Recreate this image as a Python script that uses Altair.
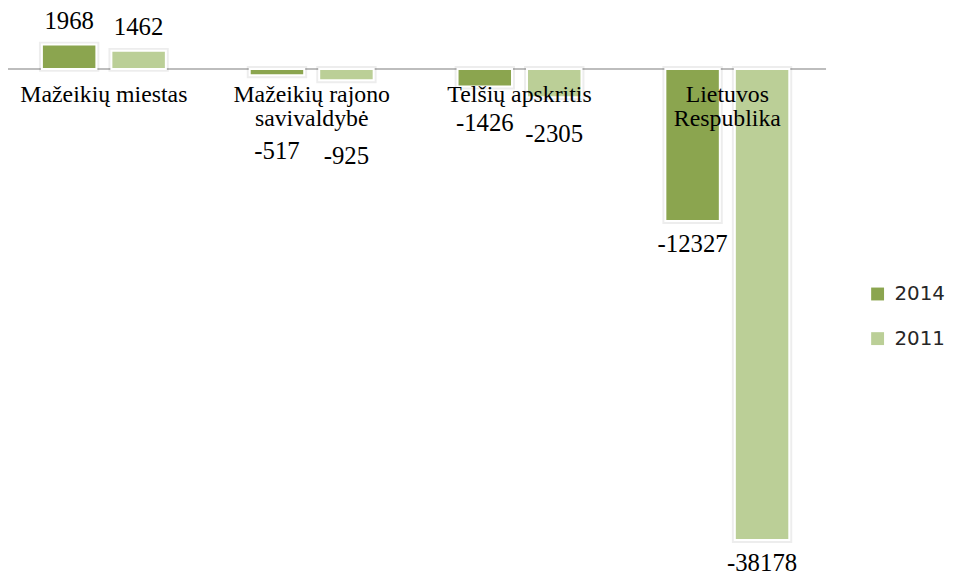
import altair as alt
import pandas as pd

categories = ["Mažeikių miestas", "Mažeikių rajono savivaldybė", "Telšių apskritis", "Lietuvos Respublika"]
category_labels = ["Mažeikių miestas", "Mažeikių rajono\nsavivaldybė", "Telšių apskritis", "Lietuvos\nRespublika"]
years = ["2014", "2011"]
values_2014 = [1968, -517, -1426, -12327]
values_2011 = [1462, -925, -2305, -38178]
colors = ["#8BA54F", "#BBCF97"]

rows = []
for c, a, b in zip(categories, values_2014, values_2011):
    rows.append({"kategorija": c, "metai": years[0], "reiksme": a})
    rows.append({"kategorija": c, "metai": years[1], "reiksme": b})
df = pd.DataFrame(rows)
cat_df = pd.DataFrame({"kategorija": categories, "pavadinimas": category_labels,
                       "reiksme": [0] * len(categories)})
zero_df = pd.DataFrame({"reiksme": [0]})

x = alt.X("kategorija:N", sort=categories, axis=None,
          scale=alt.Scale(paddingInner=0.4036, paddingOuter=0.17, align=0.48))
xo = alt.XOffset("metai:N", sort=years,
                 scale=alt.Scale(paddingInner=0.216, paddingOuter=0))
y = alt.Y("reiksme:Q", axis=None,
          scale=alt.Scale(domain=[-41150, 4740], nice=False, zero=False))

base = alt.Chart(df)

halo = base.mark_bar(fill="#000000", fillOpacity=0, stroke="#000000",
                     strokeOpacity=0.07, strokeWidth=6).encode(
    x=x, xOffset=xo, y=y)

bars = base.mark_bar(stroke="white", strokeWidth=2).encode(
    x=x, xOffset=xo, y=y,
    color=alt.Color("metai:N", sort=years, scale=alt.Scale(domain=years, range=colors),
                    legend=alt.Legend(title=None, orient="none", legendX=867, legendY=276,
                                      labelFont="DejaVu Sans", labelFontSize=20,
                                      labelColor="#262626", symbolType="square",
                                      symbolSize=169, symbolStrokeWidth=0,
                                      rowPadding=25, labelOffset=7, padding=0)))

rule = alt.Chart(zero_df).mark_rule(color="#BDBDBD", strokeWidth=2).encode(y=y)

cat_text = alt.Chart(cat_df).mark_text(
    font="Liberation Serif", fontSize=24, baseline="alphabetic", dy=33,
    lineHeight=25, lineBreak="\n", color="#000000").encode(
    x=x, y=y, text="pavadinimas:N")


def value_layer(cat, dy):
    return base.transform_filter(
        alt.FieldOneOfPredicate(field="kategorija", oneOf=[cat])
    ).transform_calculate(
        txt="'' + datum.reiksme"
    ).mark_text(font="Liberation Serif", fontSize=25, baseline="alphabetic",
                dy=dy, color="#000000").encode(
        x=x, xOffset=xo, y=y, text="txt:N")


labels = [
    value_layer(categories[0], -16),
    value_layer(categories[1], 84),
    value_layer(categories[2], 45),
    value_layer(categories[3], 31),
]

chart = alt.layer(rule, halo, bars, cat_text, *labels).properties(
    width=825, height=571,
    autosize=alt.AutoSizeParams(type="none"),
    padding={"left": 0, "top": 0, "right": 123, "bottom": 0},
).configure_view(stroke=None)

chart.save("out.html", embed_options={"renderer": "svg", "actions": False})
